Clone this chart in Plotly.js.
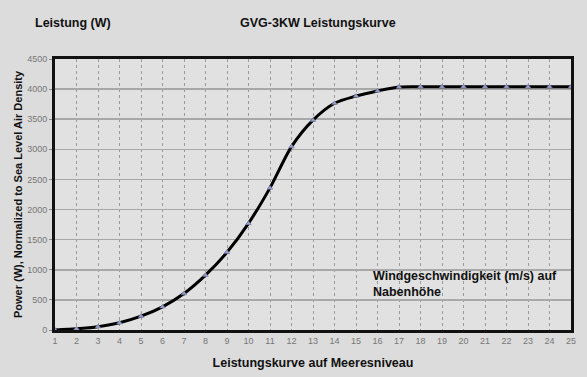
<!DOCTYPE html>
<html><head><meta charset="utf-8">
<script src="https://cdn.plot.ly/plotly-3.0.1.min.js"></script>
<style>body{margin:0;background:#dcdcdc}#c{width:587px;height:377px}</style>
</head><body><div id="c"></div>
<script>
const windSpeed = [1,2,3,4,5,6,7,8,9,10,11,12,13,14,15,16,17,18,19,20,21,22,23,24,25];
const power = [0,20,55,120,230,385,605,910,1290,1770,2360,3045,3485,3765,3885,3970,4035,4040,4040,4040,4040,4040,4040,4040,4040];
const yTicks = [0,500,1000,1500,2000,2500,3000,3500,4000,4500];

const trace = {
  x: windSpeed, y: power, type: 'scatter', mode: 'lines+markers',
  line: {color: '#000', width: 3, shape: 'spline', smoothing: 0.8},
  marker: {symbol: 'triangle-up', size: 5, color: '#9aa0c8', line: {color: '#6a70a0', width: 0.5}},
  cliponaxis: false, hoverinfo: 'none'
};
const layout = {
  width: 587, height: 377,
  paper_bgcolor: '#dcdcdc', plot_bgcolor: '#e1e1e1',
  margin: {l: 55, r: 16, t: 59, b: 47},
  showlegend: false,
  font: {family: 'Liberation Sans, Arial, sans-serif'},
  xaxis: {
    range: [1, 25], tickvals: windSpeed, ticktext: windSpeed.map(String),
    showgrid: true, gridcolor: '#9a9a9a', griddash: 'dot', gridwidth: 1,
    showline: true, linecolor: '#111', linewidth: 3, mirror: true,
    zeroline: false, ticks: '', ticklen: 0,
    tickfont: {size: 9, color: '#777'},
    title: {text: '<b>Leistungskurve auf Meeresniveau</b>', font: {size: 12.5, color: '#111'}, standoff: 14}
  },
  yaxis: {
    range: [0, 4500], tickvals: yTicks, ticktext: yTicks.map(String),
    showgrid: true, gridcolor: '#a8a8a8', gridwidth: 1.5,
    showline: true, linecolor: '#111', linewidth: 3, mirror: true,
    zeroline: false, ticks: 'outside', ticklen: 3, tickcolor: '#888',
    tickfont: {size: 9, color: '#777'},
    title: {text: '<b>Power (W), Normalized to Sea Level Air Density</b>', font: {size: 11, color: '#111'}, standoff: 3}
  },
  annotations: [
    {text: '<b>Leistung (W)</b>', xref: 'paper', yref: 'paper', x: -0.042, y: 1.133, xanchor: 'left', yanchor: 'middle', showarrow: false, font: {size: 12.5, color: '#111'}},
    {text: '<b>GVG-3KW Leistungskurve</b>', xref: 'paper', yref: 'paper', x: 0.51, y: 1.133, xanchor: 'center', yanchor: 'middle', showarrow: false, font: {size: 12.5, color: '#111'}},
    {text: '<b>Windgeschwindigkeit (m/s) auf<br>Nabenhöhe</b>', xref: 'x', yref: 'y', x: 15.7, y: 760, xanchor: 'left', yanchor: 'middle', align: 'left', showarrow: false, font: {size: 12.5, color: '#111'}}
  ]
};
Plotly.newPlot('c', [trace], layout, {displayModeBar: false, staticPlot: true});
</script></body></html>
